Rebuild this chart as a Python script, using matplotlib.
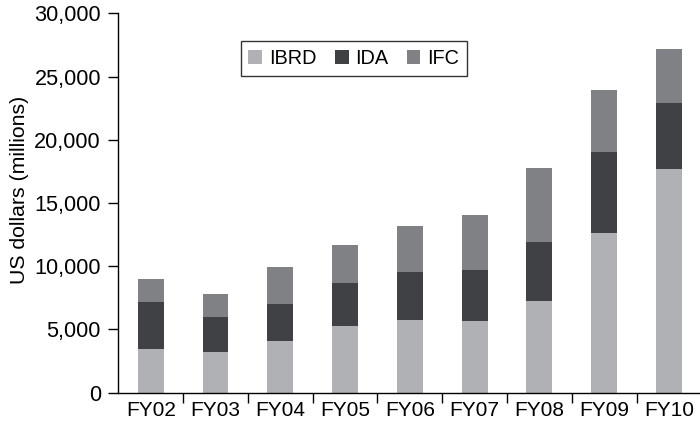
import matplotlib
matplotlib.use('Agg')
import matplotlib.pyplot as plt
import numpy as np
from matplotlib.ticker import FuncFormatter, FixedLocator

plt.rcParams['font.family'] = ['Liberation Sans', 'DejaVu Sans']

# 数据 (US$ millions)
years = ['FY02', 'FY03', 'FY04', 'FY05', 'FY06', 'FY07', 'FY08', 'FY09', 'FY10']
ibrd = [3460, 3220, 4090, 5280, 5750, 5670, 7250, 12630, 17690]
ida = [3720, 2770, 2930, 3400, 3800, 4030, 4670, 6410, 5220]
ifc = [1820, 1820, 2930, 3000, 3640, 4350, 5850, 4900, 4270]

c_ibrd = '#b0b1b5'
c_ida = '#404144'
c_ifc = '#808185'

fig = plt.figure(figsize=(7, 4.24), dpi=100)
ax = fig.add_axes([0.169, 0.0738, 0.833, 0.8948])

x = np.arange(len(years))
w = 0.4
b1 = np.array(ibrd)
b2 = b1 + np.array(ida)
ax.bar(x, ibrd, w, color=c_ibrd, label='IBRD')
ax.bar(x, ida, w, bottom=b1, color=c_ida, label='IDA')
ax.bar(x, ifc, w, bottom=b2, color=c_ifc, label='IFC')

ax.set_xlim(-0.5, len(years) - 0.5)
ax.set_ylim(0, 30000)
ax.set_yticks(range(0, 30001, 5000))
ax.yaxis.set_major_formatter(FuncFormatter(lambda v, p: f'{int(v):,}'))
ax.set_xticks(x)
ax.set_xticklabels(years)
ax.xaxis.set_minor_locator(FixedLocator(x[:-1] + 0.5))

for s in ['top', 'right']:
    ax.spines[s].set_visible(False)
for s in ['left', 'bottom']:
    ax.spines[s].set_linewidth(1.0)

ax.tick_params(axis='y', direction='out', length=7, width=1.0, labelsize=15.6, pad=5.5)
ax.tick_params(axis='x', which='major', length=0, labelsize=15, pad=6)
ax.tick_params(axis='x', which='minor', direction='out', length=7, width=1.0)

ax.set_ylabel('US dollars (millions)', fontsize=15.3)
ax.yaxis.set_label_coords(-0.153, 0.534)

leg = ax.legend(loc='center', bbox_to_anchor=(0.404, 0.882), ncol=3, fontsize=14.3,
                frameon=True, fancybox=False, edgecolor='black',
                handlelength=0.7, handleheight=0.7, handletextpad=0.35,
                columnspacing=0.9, borderpad=0.4)
leg.get_frame().set_linewidth(1.0)

fig.savefig('out.png', dpi=100)
